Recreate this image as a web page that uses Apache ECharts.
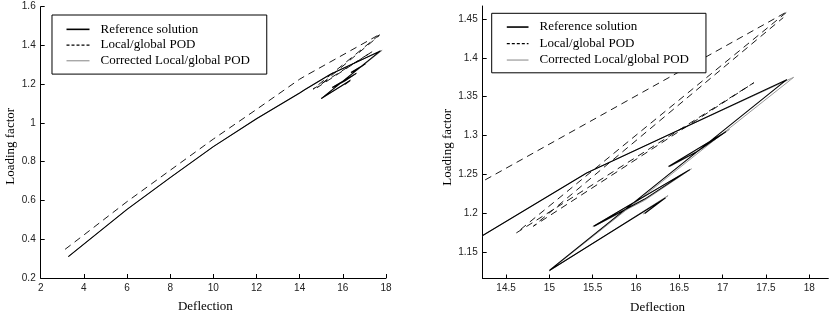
<!DOCTYPE html>
<html>
<head>
<meta charset="utf-8">
<script src="https://cdn.jsdelivr.net/npm/echarts@6/dist/echarts.min.js"></script>
<style>html,body{margin:0;padding:0;background:#fff;}#c{width:831px;height:319px;}</style>
</head>
<body>
<div id="c"></div>
<script>
// Series names
const seriesNames = ['Reference solution', 'Local/global POD', 'Corrected Local/global POD'];

// Reference solution (null = gap between branches)
const refX = [3.28, 4.0, 6.0, 8.0, 10.0, 12.0, 14.0, 14.23, 15.43, 16.05, 17.74, 15.0, 16.34, 16.10, null,
              15.51, 16.62, 16.10, 15.52, null, 16.375, 17.04, 16.70, 16.39];
const refY = [0.31, 0.375, 0.554, 0.718, 0.878, 1.022, 1.155, 1.171, 1.2517, 1.284, 1.372, 1.126, 1.2195, 1.1995, null,
              1.183, 1.256, 1.218, 1.1832, null, 1.260, 1.305, 1.279, 1.2605];

// Local/global POD
const podX = [3.13, 4.0, 6.0, 8.0, 10.0, 12.0, 14.0, 14.23, 17.75, 14.62, 17.36, 14.815, 17.70];
const podY = [0.348, 0.422, 0.594, 0.756, 0.917, 1.070, 1.226, 1.241, 1.460, 1.1745, 1.368, 1.183, 1.452];

// Corrected Local/global POD
const corX = [3.28, 4.0, 6.0, 8.0, 10.0, 12.0, 14.0, 14.23, 15.43, 16.05, 17.82, 15.0, 16.37, 16.08, null,
              15.50, 16.64, 16.10, 15.52, null, 16.38, 17.08, 16.70, 16.40];
const corY = [0.31, 0.375, 0.554, 0.718, 0.878, 1.022, 1.155, 1.171, 1.2517, 1.284, 1.375, 1.1255, 1.2225, 1.1985, null,
              1.1825, 1.257, 1.2165, 1.183, null, 1.2595, 1.308, 1.2785, 1.2605];

// Tick values
const leftXTicks = [2, 4, 6, 8, 10, 12, 14, 16, 18];
const leftYTicks = [0.2, 0.4, 0.6, 0.8, 1, 1.2, 1.4, 1.6];
const rightXTicks = [14.5, 15, 15.5, 16, 16.5, 17, 17.5, 18];
const rightYTicks = [1.15, 1.2, 1.25, 1.3, 1.35, 1.4, 1.45];

function pairs(xs, ys) {
  return xs.map((x, i) => (x === null ? '-' : [x, ys[i]]));
}

const serif = 'Liberation Serif';
const sans = 'Liberation Sans';

function xAxisCfg(grid, min, max, ticks, namePad) {
  return {
    gridIndex: grid, type: 'value', min: min, max: max,
    name: 'Deflection', nameLocation: 'middle', nameGap: 22.5,
    nameTextStyle: { fontFamily: serif, fontSize: 13, color: '#000', padding: namePad },
    axisLine: { show: true, onZero: false, lineStyle: { color: '#000', width: 1 } },
    axisTick: { show: true, inside: true, length: 4, customValues: ticks, lineStyle: { color: '#000' } },
    axisLabel: { customValues: ticks, fontFamily: sans, fontSize: 10, color: '#222', margin: 5 },
    splitLine: { show: false }
  };
}
function yAxisCfg(grid, min, max, ticks, gap, namePad) {
  return {
    gridIndex: grid, type: 'value', min: min, max: max,
    name: 'Loading factor', nameLocation: 'middle', nameGap: gap,
    nameTextStyle: { fontFamily: serif, fontSize: 13, color: '#000', padding: namePad },
    axisLine: { show: true, onZero: false, lineStyle: { color: '#000', width: 1 } },
    axisTick: { show: true, inside: true, length: 4, customValues: ticks, lineStyle: { color: '#000' } },
    axisLabel: { customValues: ticks, fontFamily: sans, fontSize: 10, color: '#222', margin: 5 },
    splitLine: { show: false }
  };
}

const legendData = [
  { name: seriesNames[0], itemStyle: { opacity: 0 }, lineStyle: { width: 1.6, color: '#000' } },
  { name: seriesNames[1], itemStyle: { opacity: 0 }, lineStyle: { width: 1.3, color: '#000', type: [3, 2] } },
  { name: seriesNames[2], itemStyle: { opacity: 0 }, lineStyle: { width: 1.2, color: '#999' } }
];
function legendCfg(left, top, pad, lh, iw) {
  return {
    left: left, top: top, orient: 'vertical', data: legendData,
    backgroundColor: '#fff', borderColor: '#000', borderWidth: 1, borderRadius: 0,
    padding: pad, itemWidth: iw, itemHeight: 10, itemGap: 0, selectedMode: false,
    itemStyle: { opacity: 0 },
    textStyle: { fontFamily: serif, fontSize: 13, color: '#000', lineHeight: lh, padding: [0, 0, 0, 6] }
  };
}

function seriesFor(idx) {
  return [
    { name: seriesNames[2], type: 'line', xAxisIndex: idx, yAxisIndex: idx, data: pairs(corX, corY),
      symbol: 'none', connectNulls: false, lineStyle: { color: '#999', width: 1 }, itemStyle: { color: '#999' }, z: 2 },
    { name: seriesNames[1], type: 'line', xAxisIndex: idx, yAxisIndex: idx, data: pairs(podX, podY),
      symbol: 'none', lineStyle: { color: '#000', width: 0.9, type: [7, 5] }, itemStyle: { color: '#000' }, z: 3 },
    { name: seriesNames[0], type: 'line', xAxisIndex: idx, yAxisIndex: idx, data: pairs(refX, refY),
      symbol: 'none', connectNulls: false, lineStyle: { color: '#000', width: 1.1 }, itemStyle: { color: '#000' }, z: 4 }
  ];
}

const chart = echarts.init(document.getElementById('c'), null, { renderer: 'canvas' });
chart.setOption({
  animation: false,
  backgroundColor: '#fff',
  grid: [
    { left: 40.7, top: 6.7, width: 345.3, height: 271.3 },
    { left: 482.7, top: 6, width: 345.6, height: 273 }
  ],
  xAxis: [
    xAxisCfg(0, 2, 18, leftXTicks, [0, 16, 0, 0]),
    xAxisCfg(1, 14.23, 18.22, rightXTicks, [0, 0, 0, 4])
  ],
  yAxis: [
    yAxisCfg(0, 0.2, 1.6, leftYTicks, 24, [0, 8, 0, 0]),
    yAxisCfg(1, 1.1156, 1.467, rightYTicks, 28.5, [0, 10, 0, 0])
  ],
  legend: [
    legendCfg(52, 15, [6.5, 16.8, 5.5, 13.7], 15.7, 23),
    legendCfg(491.7, 13.3, [5.5, 17, 4.5, 14.3], 16.5, 21.7)
  ],
  series: seriesFor(0).concat(seriesFor(1))
});
</script>
</body>
</html>
